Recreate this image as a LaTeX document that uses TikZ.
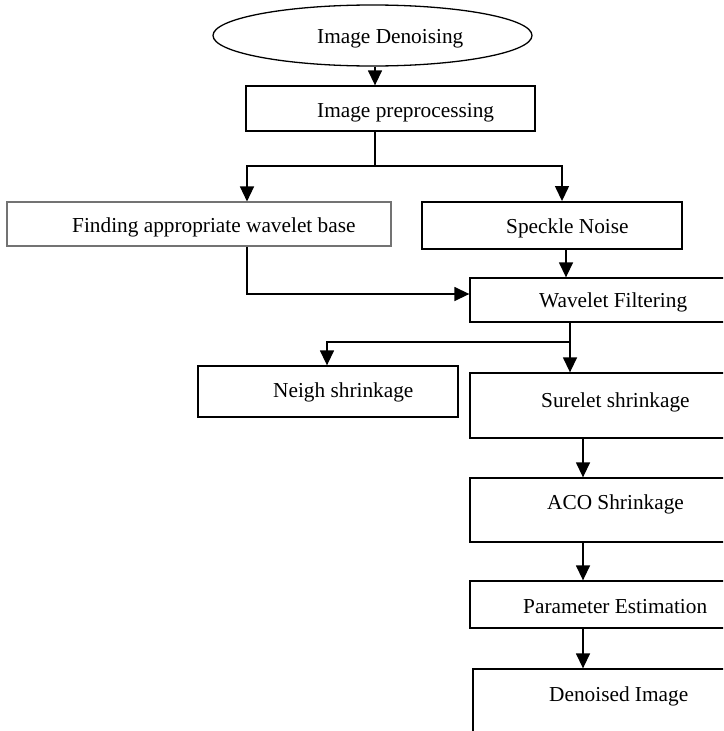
\documentclass[tikz,border=0pt]{standalone}
\usepackage{fontspec}
\setmainfont{Liberation Serif}
\usetikzlibrary{arrows.meta,shapes.geometric,fit}
\begin{document}
\begin{tikzpicture}[x=1pt,y=-1pt,
  box/.style={draw=black,line width=1.3pt,rectangle,inner sep=0pt},
  graybox/.style={draw=black!55,line width=1.1pt,rectangle,inner sep=0pt},
  thickbox/.style={draw=black,line width=1.9pt,rectangle,inner sep=0pt},
  txt/.style={anchor=base west,inner sep=0pt,font=\fontsize{21.3}{25}\selectfont},
  conn/.style={line width=1.4pt},
  arr/.style={conn,-{Triangle[length=15pt,width=14pt]}}]
\clip (0,0) rectangle (723,731);
\useasboundingbox (0,0) rectangle (723,731);
% column / junction coordinates
\coordinate (c375) at (375,0);
\coordinate (cA) at (247,0);
\coordinate (cB) at (562,0);
\coordinate (c566) at (566,0);
\coordinate (c570) at (570,0);
\coordinate (c327) at (327,0);
\coordinate (c583) at (583,0);
\coordinate (j1) at (375,166);
\coordinate (j2) at (247,294);
\coordinate (j3) at (570,342);
% shapes
\node[ellipse,draw=black,line width=1.3pt,minimum width=319pt,minimum height=61pt,inner sep=0pt] (ell) at (372.5,35.5) {};
\node[box,fit={(246,86) (535,131)}] (pre) {};
\node[graybox,fit={(7,202) (391,246)}] (find) {};
\node[thickbox,fit={(422,202) (682,249)}] (speck) {};
\node[box,fit={(470,278) (745,322)}] (wave) {};
\node[box,fit={(198,366) (458,417)}] (neigh) {};
\node[box,fit={(470,373) (745,438)}] (sure) {};
\node[box,fit={(470,478) (745,542)}] (aco) {};
\node[box,fit={(470,581) (745,628)}] (param) {};
\node[box,fit={(473,669) (745,770)}] (den) {};
% texts
\node[txt] (tell) at (317,43.3) {Image Denoising};
\node[txt] (tpre) at (317,117) {Image preprocessing};
\node[txt] (tfind) at (72,232) {Finding appropriate wavelet base};
\node[txt] (tspeck) at (506,233) {Speckle Noise};
\node[txt] (twave) at (539,307) {Wavelet Filtering};
\node[txt] (tneigh) at (273,397) {Neigh shrinkage};
\node[txt] (tsure) at (541,407) {Surelet shrinkage};
\node[txt] (taco) at (547,509) {ACO Shrinkage};
\node[txt] (tparam) at (523,613) {Parameter Estimation};
\node[txt] (tden) at (549,701) {Denoised Image};
% connectors
\draw[arr] (ell.south -| c375) -- (pre.north -| c375);
\draw[conn] (pre.south -| c375) -- (j1);
\draw[arr] (j1) -| (find.north -| cA);
\draw[arr] (j1) -| (speck.north -| cB);
\draw[arr] (find.south -| cA) |- (wave.west |- j2);
\draw[arr] (speck.south -| c566) -- (wave.north -| c566);
\draw[arr] (wave.south -| c570) -- (sure.north -| c570);
\draw[arr] (j3) -| (neigh.north -| c327);
\draw[arr] (sure.south -| c583) -- (aco.north -| c583);
\draw[arr] (aco.south -| c583) -- (param.north -| c583);
\draw[arr] (param.south -| c583) -- (den.north -| c583);
\end{tikzpicture}
\end{document}
